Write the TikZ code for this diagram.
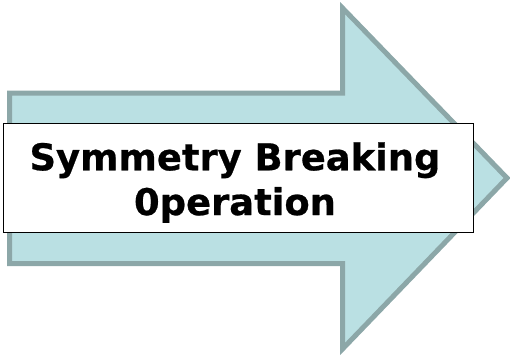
\documentclass[tikz,border=0pt]{standalone}
\usepackage{fontspec}
\setmainfont{DejaVu Sans}
\newfontfamily\boxfont{DejaVu Sans Bold}[FakeBold=0.6]
\definecolor{arrowfill}{HTML}{BAE0E3}
\definecolor{arrowline}{HTML}{8CA7A8}
\begin{document}
\begin{tikzpicture}[x=1bp,y=-1bp,
  arrowbody/.style={fill=arrowfill,draw=arrowline,line width=5bp,line join=miter},
  labelbox/.style={rectangle,draw=black,fill=white,line width=1.3bp,inner sep=0pt,minimum width=470bp,minimum height=109bp},
  labeltext/.style={align=center,inner sep=0pt,font=\boxfont\fontsize{37}{45}\selectfont}]
\useasboundingbox (0,0) rectangle (510,356);
%Arrow Corners
\coordinate (ShaftTL) at (9.5,93);
\coordinate (ShaftTR) at (342.5,93);
\coordinate (HeadTop) at (342.5,8);
\coordinate (HeadTip) at (507,178);
\coordinate (HeadBot) at (342.5,349);
\coordinate (ShaftBR) at (342.5,263.5);
\coordinate (ShaftBL) at (9.5,263.5);
%Arrow
\draw [arrowbody] (ShaftTL) -- (ShaftTR) -- (HeadTop) -- (HeadTip) -- (HeadBot) -- (ShaftBR) -- (ShaftBL) -- cycle;
%Label Box
\node at (238.5,178) [labelbox] (OpBox) {};
\node at (235,182.5) [labeltext] (OpText) {Symmetry Breaking\\0peration};
\end{tikzpicture}
\end{document}
